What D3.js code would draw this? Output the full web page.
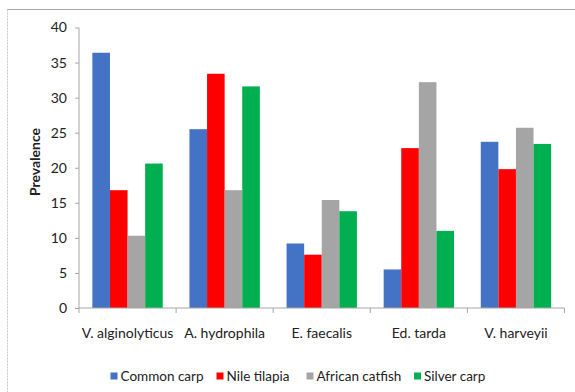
<!DOCTYPE html>
<html>
<head>
<meta charset="utf-8">
<script src="https://cdn.jsdelivr.net/npm/d3@7"></script>
<style>
  html, body { margin: 0; padding: 0; background: #fff; }
  svg { display: block; font-family: Lato, "Open Sans", sans-serif; }
</style>
</head>
<body>
<svg id="chart" width="575" height="392"></svg>
<script>
// Bacterial isolates (x categories)
const categories = ["V. alginolyticus", "A. hydrophila", "E. faecalis", "Ed. tarda", "V. harveyii"];
// Fish species (series)
const seriesNames = ["Common carp", "Nile tilapia", "African catfish", "Silver carp"];
const seriesColors = ["#4472C4", "#FF0000", "#A5A5A5", "#00B050"];
// Prevalence per series, one value per category
const commonCarp     = [36.4, 25.5, 9.2, 5.5, 23.7];
const nileTilapia    = [16.8, 33.4, 7.6, 22.8, 19.8];
const africanCatfish = [10.3, 16.8, 15.4, 32.2, 25.7];
const silverCarp     = [20.6, 31.6, 13.8, 11.0, 23.4];
const yTicks = [0, 5, 10, 15, 20, 25, 30, 35, 40];

const seriesValues = [commonCarp, nileTilapia, africanCatfish, silverCarp];

const svg = d3.select("#chart");

// outer chart frame
svg.append("line").attr("x1", 7.5).attr("x2", 575).attr("y1", 9.5).attr("y2", 9.5)
  .attr("stroke", "#a6a6a6").attr("stroke-width", 1);
svg.append("line").attr("x1", 7.5).attr("x2", 7.5).attr("y1", 9.5).attr("y2", 392)
  .attr("stroke", "#c8c8c8").attr("stroke-width", 1).attr("stroke-dasharray", "2,1");

const plot = { left: 79, right: 564.5, top: 27.5, bottom: 308 };

const x0 = d3.scaleBand().domain(categories).range([plot.left, plot.right]).paddingInner(0).paddingOuter(0);
const x1 = d3.scaleBand().domain(seriesNames)
  .range([0, x0.bandwidth()]).paddingInner(0).paddingOuter(0.76);
const y = d3.scaleLinear().domain([0, 40]).range([plot.bottom, plot.top]);

// bars
const groups = svg.append("g").selectAll("g")
  .data(categories).join("g")
  .attr("transform", d => `translate(${x0(d)},0)`);

groups.selectAll("rect")
  .data((c, i) => seriesNames.map((s, j) => ({ s, j, v: seriesValues[j][i] })))
  .join("rect")
  .attr("x", d => x1(d.s))
  .attr("width", x1.bandwidth())
  .attr("y", d => y(d.v))
  .attr("height", d => y(0) - y(d.v))
  .attr("fill", d => seriesColors[d.j]);

// y axis
const yAxis = svg.append("g")
  .attr("transform", `translate(${plot.left},0)`)
  .call(d3.axisLeft(y).tickValues(yTicks).tickSize(4).tickPadding(8));
yAxis.select(".domain").attr("stroke", "#a6a6a6").attr("d", `M0,${plot.top}V${plot.bottom}`);
yAxis.selectAll(".tick line").attr("stroke", "#a6a6a6");
yAxis.selectAll(".tick text").attr("font-size", 14).attr("fill", "#222")
  .attr("font-family", "Lato, sans-serif");

// x axis with tick marks at category boundaries
const xAxis = svg.append("g").attr("transform", `translate(0,${plot.bottom})`);
xAxis.append("line").attr("x1", plot.left).attr("x2", plot.right)
  .attr("stroke", "#a6a6a6");
const bounds = categories.map(c => x0(c)).concat([plot.right]);
xAxis.selectAll("line.tk").data(bounds).join("line").attr("class", "tk")
  .attr("x1", d => d).attr("x2", d => d).attr("y1", 0).attr("y2", 5)
  .attr("stroke", "#a6a6a6");
xAxis.selectAll("text").data(categories).join("text")
  .attr("x", d => x0(d) + x0.bandwidth() / 2)
  .attr("y", 30)
  .attr("text-anchor", "middle")
  .attr("font-size", 14).attr("fill", "#222")
  .text(d => d);

// y axis title
svg.append("text")
  .attr("transform", `translate(40,162) rotate(-90)`)
  .attr("text-anchor", "middle")
  .attr("font-size", 14).attr("font-weight", "bold").attr("fill", "#222")
  .text("Prevalence");

// legend
const legendX = [110.5, 216.5, 306.5, 414];
const legend = svg.append("g").selectAll("g").data(seriesNames).join("g")
  .attr("transform", (d, i) => `translate(${legendX[i]},376)`);
legend.append("rect").attr("x", 0).attr("y", -3.5).attr("width", 7).attr("height", 7)
  .attr("fill", (d, i) => seriesColors[i]);
legend.append("text").attr("x", 10).attr("y", 5)
  .attr("font-size", 13.5).attr("fill", "#222")
  .text(d => d);
</script>
</body>
</html>
